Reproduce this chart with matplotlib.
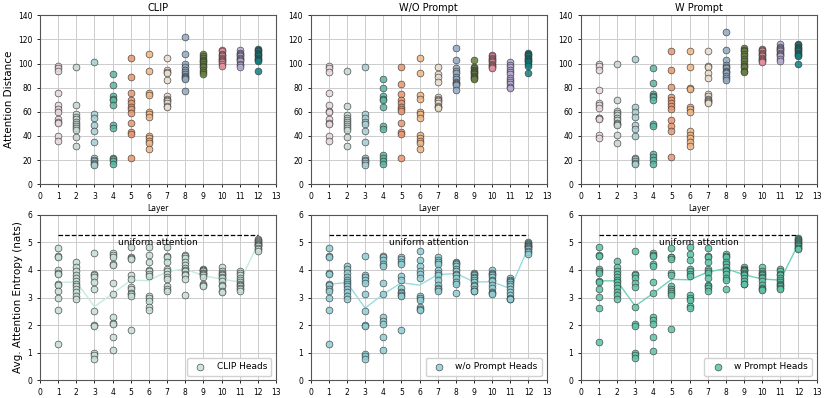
import numpy as np
import matplotlib
matplotlib.use("Agg")
import matplotlib.pyplot as plt

# layers 1..12, 12 heads each
layers = list(range(1, 13))

# ---- attention distance (top row) ----
dist_clip = [
    [98, 96, 94, 76, 66, 62, 60, 54, 52, 51, 40, 36],
    [97, 66, 58, 56, 54, 52, 50, 48, 47, 45, 39, 32],
    [101, 58, 55, 49, 44, 35, 22, 20, 19, 18, 17, 16],
    [91, 82, 73, 71, 70, 66, 49, 47, 22, 21, 19, 17],
    [105, 89, 76, 70, 67, 64, 62, 59, 51, 43, 42, 22],
    [108, 94, 76, 74, 60, 58, 56, 40, 38, 36, 34, 29],
    [105, 95, 93, 92, 86, 73, 71, 70, 69, 67, 65, 64],
    [122, 108, 100, 97, 95, 93, 91, 90, 89, 88, 87, 77],
    [108, 106, 105, 103, 102, 101, 100, 98, 97, 95, 93, 91],
    [111, 110, 108, 107, 106, 105, 104, 103, 102, 101, 100, 98],
    [111, 109, 108, 107, 106, 105, 104, 103, 102, 100, 99, 97],
    [112, 111, 110, 109, 108, 107, 106, 105, 104, 103, 102, 94],
]
dist_wo = [
    [98, 96, 93, 76, 66, 61, 60, 54, 51, 50, 40, 36],
    [94, 65, 57, 55, 53, 52, 50, 48, 47, 45, 39, 32],
    [97, 58, 55, 52, 50, 44, 35, 22, 20, 19, 18, 16],
    [87, 80, 73, 71, 70, 64, 48, 46, 24, 22, 19, 17],
    [97, 83, 75, 70, 67, 64, 62, 61, 51, 43, 42, 22],
    [105, 92, 74, 71, 60, 58, 55, 41, 38, 36, 34, 29],
    [97, 91, 89, 85, 72, 71, 70, 69, 67, 65, 64, 63],
    [113, 103, 96, 94, 92, 89, 87, 85, 84, 83, 82, 78],
    [103, 97, 96, 95, 94, 93, 92, 91, 90, 89, 88, 87],
    [107, 106, 105, 104, 103, 102, 101, 100, 99, 98, 97, 96],
    [101, 99, 97, 95, 93, 91, 88, 86, 85, 83, 81, 80],
    [109, 108, 107, 106, 105, 104, 103, 102, 101, 100, 98, 92],
]
dist_w = [
    [100, 98, 95, 78, 67, 66, 63, 55, 55, 54, 41, 38],
    [100, 70, 61, 59, 57, 55, 53, 51, 50, 49, 41, 34],
    [104, 64, 60, 56, 49, 46, 40, 22, 21, 19, 18, 17],
    [96, 84, 75, 73, 72, 70, 50, 48, 25, 23, 20, 17],
    [110, 95, 81, 72, 70, 67, 65, 62, 53, 48, 44, 23],
    [110, 97, 80, 79, 64, 62, 60, 44, 41, 38, 35, 32],
    [110, 98, 97, 92, 88, 75, 73, 71, 70, 69, 68, 67],
    [126, 111, 103, 99, 97, 96, 94, 93, 92, 90, 88, 86],
    [113, 111, 110, 108, 106, 104, 102, 100, 98, 97, 94, 93],
    [112, 111, 110, 109, 108, 107, 106, 105, 104, 103, 102, 101],
    [116, 114, 113, 112, 111, 110, 109, 108, 107, 106, 104, 102],
    [116, 115, 114, 113, 112, 111, 110, 109, 108, 107, 106, 100],
]

# ---- average attention entropy (bottom row) ----
ent_clip = [
    [4.8, 4.5, 4.45, 4.0, 3.9, 3.85, 3.5, 3.45, 3.25, 3.0, 2.55, 1.3],
    [4.27, 4.1, 3.95, 3.8, 3.7, 3.6, 3.5, 3.4, 3.3, 3.2, 3.05, 2.93],
    [4.63, 3.85, 3.8, 3.75, 3.55, 3.3, 2.5, 2.02, 1.98, 0.98, 0.92, 0.78],
    [4.62, 4.55, 4.48, 4.2, 4.17, 3.52, 3.13, 2.28, 2.06, 2.03, 1.57, 1.08],
    [4.82, 4.47, 4.42, 4.4, 3.82, 3.68, 3.38, 3.3, 3.18, 3.13, 3.05, 1.82],
    [4.82, 4.55, 4.3, 4.0, 3.95, 3.85, 3.78, 3.05, 2.97, 2.88, 2.64, 2.55],
    [4.82, 4.5, 4.45, 4.3, 4.05, 3.95, 3.85, 3.75, 3.68, 3.4, 3.32, 3.25],
    [4.55, 4.5, 4.42, 4.3, 4.18, 4.08, 4.0, 3.95, 3.85, 3.8, 3.67, 3.1],
    [4.05, 4.0, 3.98, 3.95, 3.9, 3.88, 3.85, 3.8, 3.75, 3.5, 3.45, 3.43],
    [4.1, 3.95, 3.9, 3.85, 3.8, 3.75, 3.7, 3.6, 3.45, 3.4, 3.25, 3.2],
    [3.95, 3.9, 3.8, 3.7, 3.65, 3.55, 3.5, 3.45, 3.4, 3.35, 3.3, 3.25],
    [5.12, 5.08, 5.05, 5.0, 4.98, 4.95, 4.92, 4.9, 4.85, 4.8, 4.75, 4.7],
]
ent_wo = [
    [4.8, 4.5, 4.45, 3.9, 3.85, 3.5, 3.45, 3.3, 3.25, 3.0, 2.55, 1.3],
    [4.15, 4.05, 3.9, 3.75, 3.65, 3.55, 3.5, 3.4, 3.3, 3.2, 3.05, 2.93],
    [4.52, 3.82, 3.75, 3.62, 3.52, 3.12, 2.5, 2.0, 1.95, 0.95, 0.88, 0.78],
    [4.52, 4.45, 4.35, 4.2, 4.15, 3.52, 3.12, 2.28, 2.15, 2.03, 1.57, 1.08],
    [4.45, 4.38, 4.3, 4.2, 3.78, 3.65, 3.35, 3.2, 3.15, 3.1, 3.05, 1.82],
    [4.67, 4.35, 4.15, 3.95, 3.85, 3.72, 3.05, 2.97, 2.9, 2.65, 2.58, 2.55],
    [4.45, 4.35, 4.3, 4.2, 3.98, 3.9, 3.8, 3.62, 3.45, 3.35, 3.3, 3.22],
    [4.3, 4.25, 4.2, 4.15, 4.05, 3.95, 3.85, 3.8, 3.7, 3.55, 3.5, 3.15],
    [3.9, 3.85, 3.8, 3.75, 3.7, 3.65, 3.55, 3.45, 3.4, 3.3, 3.25, 3.22],
    [4.0, 3.9, 3.85, 3.8, 3.75, 3.65, 3.6, 3.45, 3.35, 3.2, 3.15, 3.12],
    [3.7, 3.65, 3.6, 3.55, 3.5, 3.4, 3.3, 3.2, 3.1, 3.0, 2.95, 2.93],
    [5.0, 4.98, 4.95, 4.92, 4.88, 4.85, 4.82, 4.78, 4.75, 4.7, 4.65, 4.58],
]
ent_w = [
    [4.82, 4.55, 4.52, 4.05, 3.95, 3.88, 3.6, 3.55, 3.3, 3.03, 2.63, 1.38],
    [4.33, 4.1, 3.95, 3.85, 3.75, 3.65, 3.55, 3.45, 3.35, 3.2, 3.1, 2.95],
    [4.68, 3.85, 3.8, 3.72, 3.52, 3.38, 2.65, 2.03, 1.98, 0.98, 0.9, 0.8],
    [4.6, 4.55, 4.5, 4.2, 4.15, 3.55, 3.15, 2.3, 2.18, 2.03, 1.57, 1.05],
    [4.8, 4.47, 4.45, 4.4, 3.88, 3.8, 3.42, 3.32, 3.22, 3.18, 3.08, 1.87],
    [4.82, 4.58, 4.35, 4.05, 3.95, 3.85, 3.78, 3.1, 3.0, 2.9, 2.7, 2.62],
    [4.78, 4.5, 4.45, 4.3, 4.05, 3.95, 3.9, 3.7, 3.45, 3.4, 3.35, 3.25],
    [4.57, 4.52, 4.45, 4.3, 4.2, 4.1, 4.0, 3.95, 3.85, 3.7, 3.65, 3.3],
    [4.1, 4.05, 4.0, 3.98, 3.95, 3.9, 3.85, 3.8, 3.7, 3.6, 3.5, 3.48],
    [4.12, 3.95, 3.9, 3.85, 3.8, 3.75, 3.7, 3.6, 3.45, 3.35, 3.3, 3.28],
    [4.02, 3.95, 3.85, 3.8, 3.7, 3.65, 3.55, 3.5, 3.45, 3.4, 3.35, 3.32],
    [5.15, 5.12, 5.08, 5.05, 5.0, 4.98, 4.95, 4.9, 4.85, 4.8, 4.78, 4.75],
]

uniform_entropy = np.log(197)  # 196 patches + cls token

titles = ["CLIP", "W/O Prompt", "W Prompt"]
head_labels = ["CLIP Heads", "w/o Prompt Heads", "w Prompt Heads"]

layer_colors = ["#e8d8de", "#c6d8d0", "#a6ced4", "#5cb6a2", "#ea976f", "#f1b682",
                "#e9ddcc", "#92aac2", "#66803f", "#e6909d", "#b8aad6", "#137f80"]
head_colors = ["#c6e0d6", "#8dcfd5", "#5dc4a8"]
line_colors = ["#c4ebdf", "#98dbe0", "#6dd2b8"]

plt.rcParams["font.family"] = "DejaVu Sans"
fig = plt.figure(figsize=(8.3, 3.98), dpi=100)

lefts = [0.0482, 0.3743, 0.6996]
w = 0.2843
dists = [dist_clip, dist_wo, dist_w]
ents = [ent_clip, ent_wo, ent_w]

for i in range(3):
    # top: attention distance
    ax = fig.add_axes([lefts[i], 0.537, w, 0.4246])
    for j, layer in enumerate(layers):
        ax.scatter([layer] * len(dists[i][j]), dists[i][j], s=24, color=layer_colors[j],
                   edgecolors="#333333", linewidths=0.5, alpha=0.85, zorder=3)
    ax.set_xlim(0, 13)
    ax.set_ylim(0, 140)
    ax.set_xticks(range(0, 14))
    ax.set_yticks(range(0, 141, 20))
    ax.grid(True, color="#cccccc", linewidth=0.7)
    ax.set_axisbelow(True)
    ax.tick_params(labelsize=5.5, length=2, width=0.6)
    ax.set_title(titles[i], fontsize=7, pad=3)
    ax.set_xlabel("Layer", fontsize=5.5, labelpad=2)
    for sp in ax.spines.values():
        sp.set_color("#555555")
    if i == 0:
        ax.set_ylabel("Attention Distance", fontsize=7.5, labelpad=3)

    # bottom: entropy
    ax2 = fig.add_axes([lefts[i], 0.0445, w, 0.416])
    for j, layer in enumerate(layers):
        ax2.scatter([layer] * len(ents[i][j]), ents[i][j], s=24, color=head_colors[i],
                    edgecolors="#333333", linewidths=0.5, alpha=0.85, zorder=3,
                    label=head_labels[i] if j == 0 else None)
    means = [np.mean(v) for v in ents[i]]
    ax2.plot(layers, means, color=line_colors[i], linewidth=1.0, zorder=2)
    ax2.hlines(uniform_entropy, 1, 12, colors="black", linestyles="--", linewidth=0.9)
    ax2.text(6.5, 4.98, "uniform attention", fontsize=6.5, ha="center", va="center")
    ax2.set_xlim(0, 13)
    ax2.set_ylim(0, 6)
    ax2.set_xticks(range(0, 14))
    ax2.set_yticks(range(0, 7))
    ax2.grid(True, color="#cccccc", linewidth=0.7)
    ax2.set_axisbelow(True)
    ax2.tick_params(labelsize=5.5, length=2, width=0.6)
    for sp in ax2.spines.values():
        sp.set_color("#555555")
    ax2.legend(loc="lower right", fontsize=6.5, scatterpoints=1, handletextpad=0.8,
               borderpad=0.5, framealpha=0.9)
    if i == 0:
        ax2.set_ylabel("Avg. Attention Entropy (nats)", fontsize=7.5, labelpad=3)

fig.savefig("out.png", dpi=100)
